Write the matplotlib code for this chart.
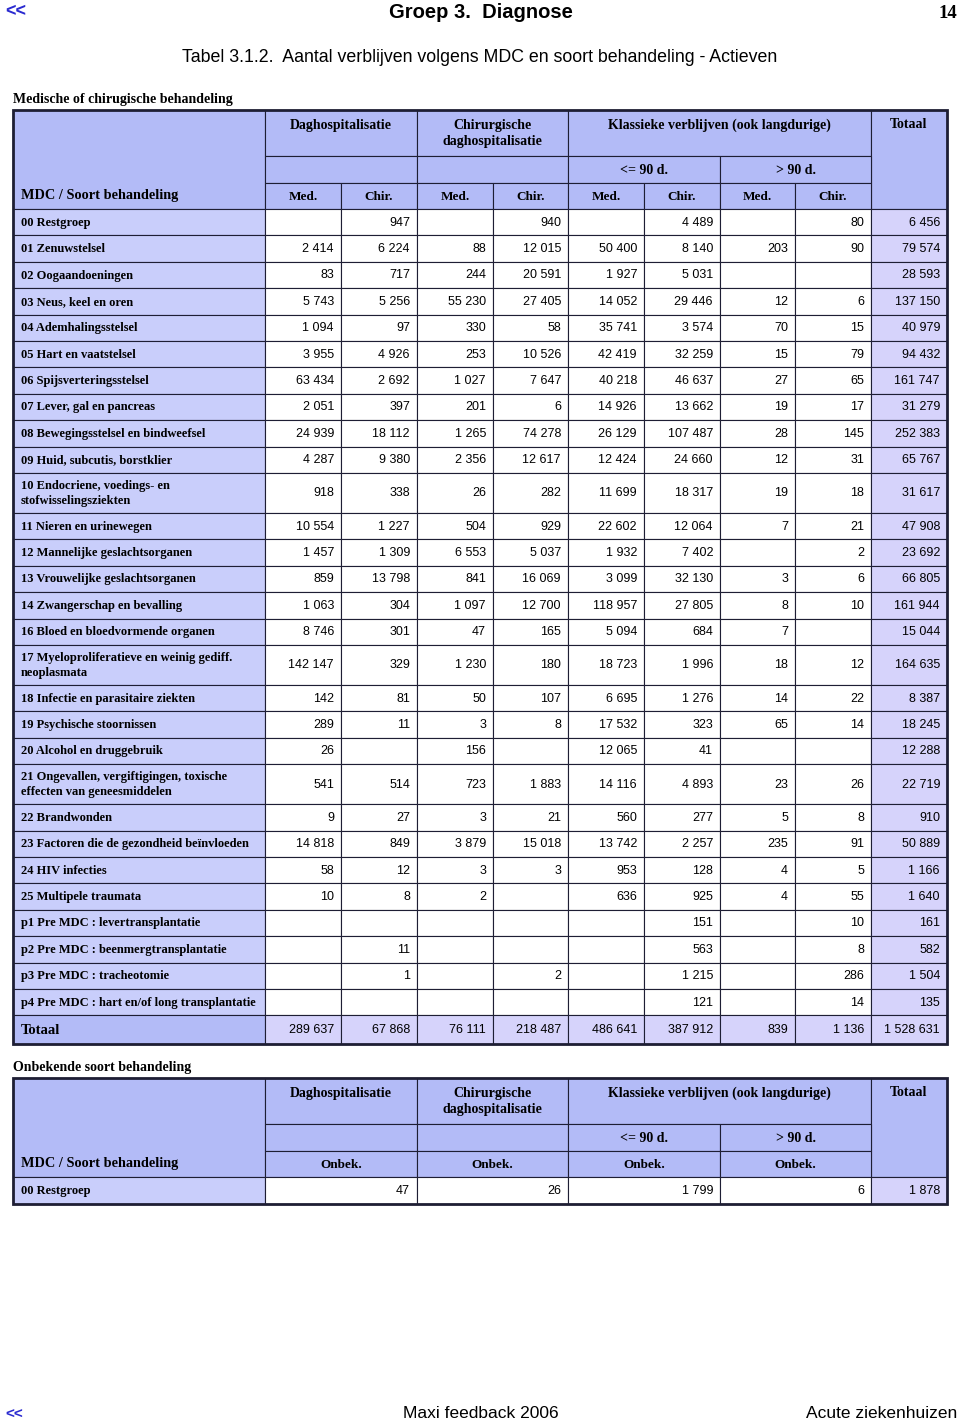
import matplotlib.pyplot as plt
from matplotlib.patches import Rectangle

# ---- data ------------------------------------------------------------
labels = [
    "00 Restgroep", "01 Zenuwstelsel", "02 Oogaandoeningen", "03 Neus, keel en oren",
    "04 Ademhalingsstelsel", "05 Hart en vaatstelsel", "06 Spijsverteringsstelsel",
    "07 Lever, gal en pancreas", "08 Bewegingsstelsel en bindweefsel",
    "09 Huid, subcutis, borstklier",
    "10 Endocriene, voedings- en\nstofwisselingsziekten",
    "11 Nieren en urinewegen", "12 Mannelijke geslachtsorganen",
    "13 Vrouwelijke geslachtsorganen", "14 Zwangerschap en bevalling",
    "16 Bloed en bloedvormende organen",
    "17 Myeloproliferatieve en weinig gediff.\nneoplasmata",
    "18 Infectie en parasitaire ziekten", "19 Psychische stoornissen",
    "20 Alcohol en druggebruik",
    "21 Ongevallen, vergiftigingen, toxische\neffecten van geneesmiddelen",
    "22 Brandwonden", "23 Factoren die de gezondheid beïnvloeden", "24 HIV infecties",
    "25 Multipele traumata", "p1 Pre MDC : levertransplantatie",
    "p2 Pre MDC : beenmergtransplantatie", "p3 Pre MDC : tracheotomie",
    "p4 Pre MDC : hart en/of long transplantatie",
]
N = None
dag_med = [N, 2414, 83, 5743, 1094, 3955, 63434, 2051, 24939, 4287, 918, 10554, 1457, 859, 1063,
           8746, 142147, 142, 289, 26, 541, 9, 14818, 58, 10, N, N, N, N]
dag_chir = [947, 6224, 717, 5256, 97, 4926, 2692, 397, 18112, 9380, 338, 1227, 1309, 13798, 304,
            301, 329, 81, 11, N, 514, 27, 849, 12, 8, N, 11, 1, N]
chd_med = [N, 88, 244, 55230, 330, 253, 1027, 201, 1265, 2356, 26, 504, 6553, 841, 1097,
           47, 1230, 50, 3, 156, 723, 3, 3879, 3, 2, N, N, N, N]
chd_chir = [940, 12015, 20591, 27405, 58, 10526, 7647, 6, 74278, 12617, 282, 929, 5037, 16069, 12700,
            165, 180, 107, 8, N, 1883, 21, 15018, 3, N, N, N, 2, N]
kl90_med = [N, 50400, 1927, 14052, 35741, 42419, 40218, 14926, 26129, 12424, 11699, 22602, 1932, 3099,
            118957, 5094, 18723, 6695, 17532, 12065, 14116, 560, 13742, 953, 636, N, N, N, N]
kl90_chir = [4489, 8140, 5031, 29446, 3574, 32259, 46637, 13662, 107487, 24660, 18317, 12064, 7402,
             32130, 27805, 684, 1996, 1276, 323, 41, 4893, 277, 2257, 128, 925, 151, 563, 1215, 121]
gt90_med = [N, 203, N, 12, 70, 15, 27, 19, 28, 12, 19, 7, N, 3, 8, 7, 18, 14, 65, N, 23, 5, 235, 4, 4,
            N, N, N, N]
gt90_chir = [80, 90, N, 6, 15, 79, 65, 17, 145, 31, 18, 21, 2, 6, 10, N, 12, 22, 14, N, 26, 8, 91, 5,
             55, 10, 8, 286, 14]
totaal = [6456, 79574, 28593, 137150, 40979, 94432, 161747, 31279, 252383, 65767, 31617, 47908, 23692,
          66805, 161944, 15044, 164635, 8387, 18245, 12288, 22719, 910, 50889, 1166, 1640, 161, 582,
          1504, 135]
col_totals = [289637, 67868, 76111, 218487, 486641, 387912, 839, 1136, 1528631]

unk_labels = ["00 Restgroep"]
unk_values = [47, 26, 1799, 6]
unk_total = [1878]

# ---- style -----------------------------------------------------------
HEAD = "#b3bbf7"
LABC = "#c9cefb"
TOTC = "#d6d3fb"
LINE = "#1e1e34"
SERIF = "Liberation Serif"
SANS = "Liberation Sans"

edges = [13, 265, 341, 417, 493, 568, 644, 720, 795, 871, 947]


def fmt(v):
    return "" if v is None else f"{v:,}".replace(",", " ")


fig = plt.figure(figsize=(9.6, 14.26), dpi=100)
ax = fig.add_axes([0, 0, 1, 1])
ax.set_xlim(0, 960)
ax.set_ylim(1426, 0)
ax.axis("off")


def cell(x0, x1, y0, y1, fc):
    ax.add_patch(Rectangle((x0, y0), x1 - x0, y1 - y0, facecolor=fc, edgecolor=LINE, lw=0.8))


def htext(x, y, s, **kw):
    ax.text(x, y, s, family=SERIF, weight="bold", fontsize=10, ha="center", va="center", **kw)


def header(top, bottom_labels):
    r1, r2, r3 = top + 46, top + 73, top + 99
    cell(edges[0], edges[1], top, r3, HEAD)
    cell(edges[1], edges[3], top, r1, HEAD)
    cell(edges[3], edges[5], top, r1, HEAD)
    cell(edges[5], edges[9], top, r1, HEAD)
    cell(edges[9], edges[10], top, r3, HEAD)
    cell(edges[1], edges[3], r1, r2, HEAD)
    cell(edges[3], edges[5], r1, r2, HEAD)
    cell(edges[5], edges[7], r1, r2, HEAD)
    cell(edges[7], edges[9], r1, r2, HEAD)
    htext((edges[1] + edges[3]) / 2, top + 15, "Daghospitalisatie")
    htext((edges[3] + edges[5]) / 2, top + 23, "Chirurgische\ndaghospitalisatie", linespacing=1.3)
    htext((edges[5] + edges[9]) / 2, top + 15, "Klassieke verblijven (ook langdurige)")
    htext((edges[9] + edges[10]) / 2, top + 15, "Totaal")
    htext((edges[5] + edges[7]) / 2, (r1 + r2) / 2 + 0.5, "<= 90 d.")
    htext((edges[7] + edges[9]) / 2, (r1 + r2) / 2 + 0.5, "> 90 d.")
    ax.text(edges[0] + 8, (r2 + r3) / 2, "MDC / Soort behandeling", family=SERIF,
            weight="bold", fontsize=10.3, ha="left", va="center")
    step = (len(edges) - 3) // len(bottom_labels)
    for i, lab in enumerate(bottom_labels):
        a, b = edges[1 + i * step], edges[1 + (i + 1) * step]
        cell(a, b, r2, r3, HEAD)
        ax.text((a + b) / 2, (r2 + r3) / 2 + 1, lab, family=SERIF, weight="bold",
                fontsize=9.5, ha="center", va="center")
    return r3


def data_row(y0, h, label, values, tot, lab_fc, val_fc, lab_size=9):
    cell(edges[0], edges[1], y0, y0 + h, lab_fc)
    ax.text(edges[0] + 8, y0 + h / 2 + 0.5, label, family=SERIF, weight="bold",
            fontsize=lab_size, ha="left", va="center", linespacing=1.3)
    step = (len(edges) - 3) // len(values)
    for i, v in enumerate(values):
        a, b = edges[1 + i * step], edges[1 + (i + 1) * step]
        cell(a, b, y0, y0 + h, val_fc)
        ax.text(b - 7, y0 + h / 2 + 0.5, fmt(v), family=SANS, fontsize=9,
                ha="right", va="center")
    cell(edges[9], edges[10], y0, y0 + h, TOTC)
    ax.text(edges[10] - 7, y0 + h / 2 + 0.5, fmt(tot), family=SANS, fontsize=9,
            ha="right", va="center")


# ---- page texts ------------------------------------------------------
ax.text(5, 12, "<<", family=SANS, weight="bold", fontsize=13, color="#2a2ad0", va="center")
ax.text(481, 12, "Groep 3.  Diagnose", family=SANS, weight="bold", fontsize=14.5,
        ha="center", va="center")
ax.text(957, 13, "14", family=SERIF, weight="bold", fontsize=13.5, ha="right", va="center")
ax.text(480, 57, "Tabel 3.1.2.  Aantal verblijven volgens MDC en soort behandeling - Actieven",
        family=SANS, fontsize=12.8, ha="center", va="center")

# ---- table 1 ---------------------------------------------------------
ax.text(13, 99, "Medische of chirugische behandeling", family=SERIF, weight="bold",
        fontsize=10, ha="left", va="center")
top1 = 110
y = header(top1, ["Med.", "Chir."] * 4)
series = [dag_med, dag_chir, chd_med, chd_chir, kl90_med, kl90_chir, gt90_med, gt90_chir]
for i, lab in enumerate(labels):
    h = 40 if "\n" in lab else 26.4
    data_row(y, h, lab, [s[i] for s in series], totaal[i], LABC, "white")
    y += h
data_row(y, 28.5, "Totaal", col_totals[:-1], col_totals[-1], HEAD, TOTC, lab_size=10.5)
y += 28.5
ax.add_patch(Rectangle((edges[0], top1), edges[-1] - edges[0], y - top1, fill=False,
                       edgecolor=LINE, lw=2.0))

# ---- table 2 ---------------------------------------------------------
ax.text(13, 1068, "Onbekende soort behandeling", family=SERIF, weight="bold",
        fontsize=10, ha="left", va="center")
top2 = 1078
y = header(top2, ["Onbek."] * 4)
for i, lab in enumerate(unk_labels):
    data_row(y, 27, lab, unk_values, unk_total[i], LABC, "white")
    y += 27
ax.add_patch(Rectangle((edges[0], top2), edges[-1] - edges[0], y - top2, fill=False,
                       edgecolor=LINE, lw=2.0))

# ---- footer ----------------------------------------------------------
ax.text(5, 1415, "<<", family=SANS, weight="bold", fontsize=11, color="#2a2ad0", va="center")
ax.text(481, 1414, "Maxi feedback 2006", family=SANS, fontsize=12.5, ha="center", va="center")
ax.text(957, 1414, "Acute ziekenhuizen", family=SANS, fontsize=12.5, ha="right", va="center")

fig.savefig("out.png", dpi=100)
